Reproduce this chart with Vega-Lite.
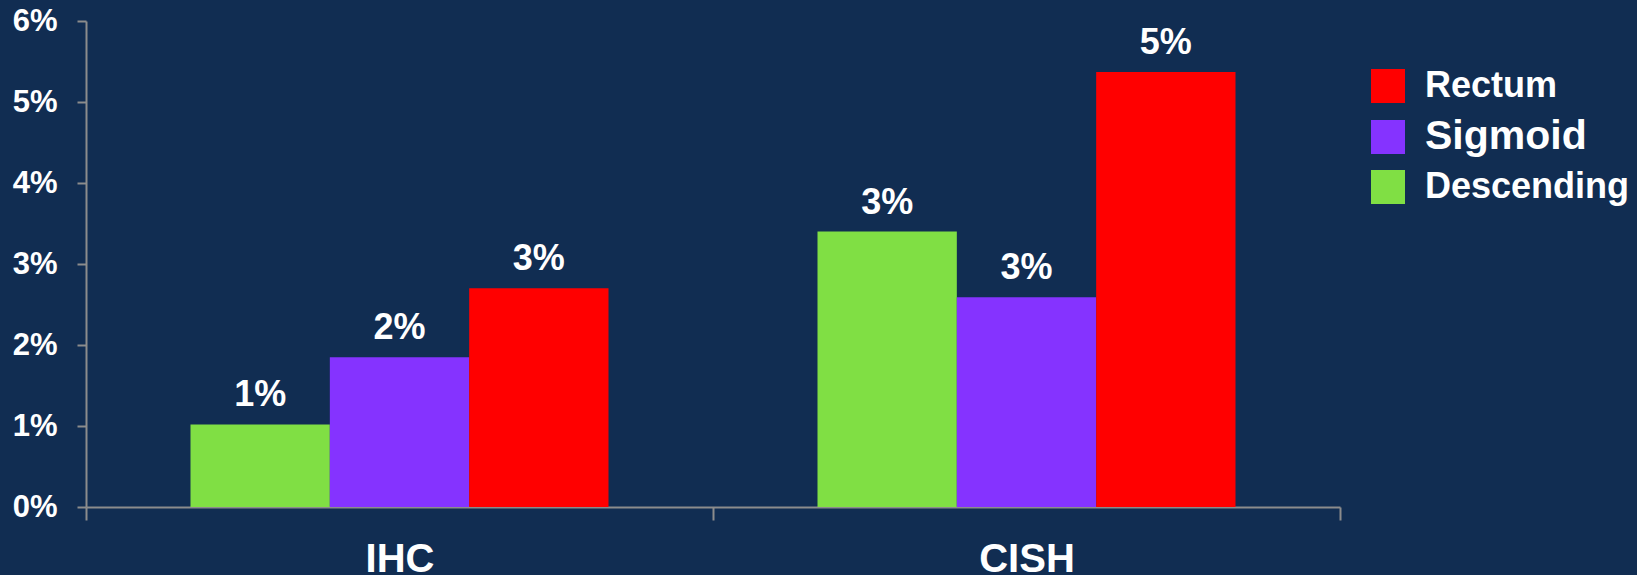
{
  "$schema": "https://vega.github.io/schema/vega-lite/v6.json",
  "width": 1254,
  "height": 486,
  "autosize": "none",
  "padding": {"left": 86, "top": 21, "right": 297, "bottom": 68},
  "background": "#112d52",
  "data": {
    "values": [
      {"method": "IHC", "site": "Descending", "value": 0.0102},
      {"method": "IHC", "site": "Sigmoid", "value": 0.0185},
      {"method": "IHC", "site": "Rectum", "value": 0.0270},
      {"method": "CISH", "site": "Descending", "value": 0.0340},
      {"method": "CISH", "site": "Sigmoid", "value": 0.0259},
      {"method": "CISH", "site": "Rectum", "value": 0.0537}
    ]
  },
  "encoding": {
    "x": {
      "field": "method", "type": "nominal", "sort": ["IHC", "CISH"],
      "scale": {"paddingInner": 0, "paddingOuter": 0},
      "axis": {
        "title": null, "labelAngle": 0, "tickBand": "extent",
        "domainColor": "#8c8c8c", "domainWidth": 2, "tickColor": "#8c8c8c", "tickWidth": 2, "tickSize": 13,
        "labelColor": "#ffffff", "labelFont": "Liberation Sans", "labelFontWeight": "bold", "labelFontSize": 40,
        "labelPadding": 19
      }
    },
    "xOffset": {
      "field": "site", "type": "nominal", "sort": ["Descending", "Sigmoid", "Rectum"],
      "scale": {"paddingInner": 0, "paddingOuter": 0.75}
    },
    "y": {
      "field": "value", "type": "quantitative",
      "scale": {"domain": [0, 0.06], "nice": false},
      "axis": {
        "title": null, "values": [0, 0.01, 0.02, 0.03, 0.04, 0.05, 0.06], "format": ".0%", "grid": false,
        "domainColor": "#8c8c8c", "domainWidth": 2, "tickColor": "#8c8c8c", "tickWidth": 2, "tickSize": 9,
        "labelColor": "#ffffff", "labelFont": "Liberation Sans", "labelFontWeight": "bold", "labelFontSize": 31,
        "labelPadding": 20
      }
    }
  },
  "layer": [
    {
      "mark": {"type": "bar"},
      "encoding": {
        "color": {
          "field": "site", "type": "nominal",
          "scale": {"domain": ["Rectum", "Sigmoid", "Descending"], "range": ["#ff0000", "#8533ff", "#80df44"]},
          "legend": {
            "title": null, "orient": "none", "legendX": 1284, "legendY": 47,
            "symbolType": "square", "symbolSize": 1156, "symbolStrokeWidth": 0, "symbolOpacity": 1,
            "labelColor": "#ffffff", "labelFont": "Liberation Sans", "labelFontWeight": "bold", "labelFontSize": 36,
            "labelOffset": 19, "rowPadding": 12, "padding": 0, "labelLimit": 400,
            "encode": {"labels": {"update": {"fontSize": {"signal": "datum.label === 'Sigmoid' ? 41 : 36"}}}}
          }
        }
      }
    },
    {
      "mark": {"type": "text", "dy": -18, "baseline": "alphabetic", "align": "center", "color": "#ffffff", "font": "Liberation Sans", "fontWeight": "bold", "fontSize": 36},
      "encoding": {
        "text": {"field": "value", "type": "quantitative", "format": ".0%"}
      }
    }
  ],
  "config": {"view": {"stroke": null}}
}
